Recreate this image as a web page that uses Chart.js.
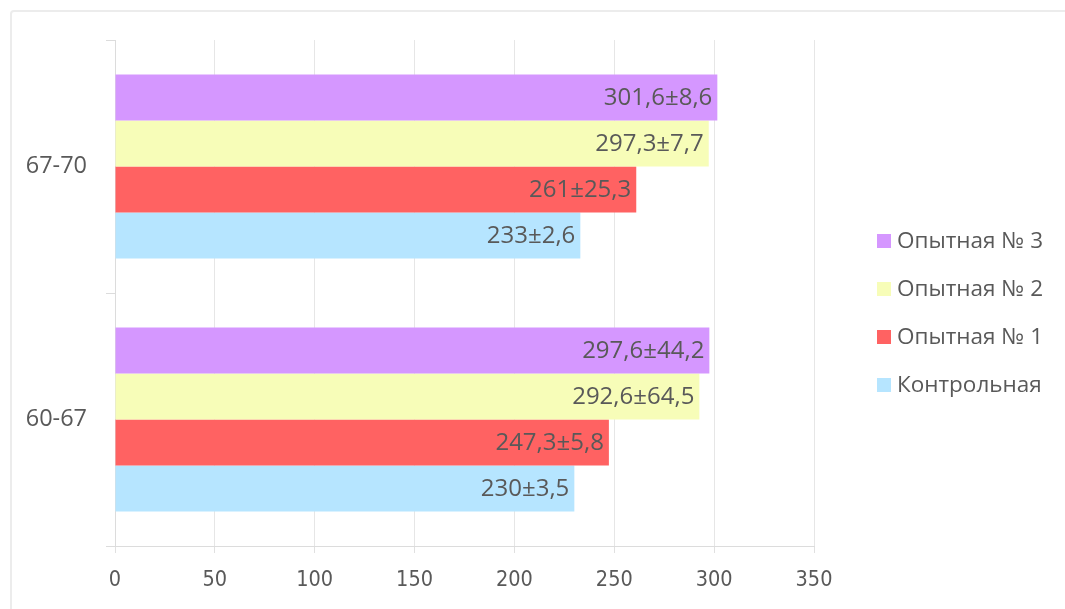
<!DOCTYPE html>
<html>
<head>
<meta charset="utf-8">
<script src="https://cdn.jsdelivr.net/npm/chart.js@4"></script>
<style>
  html, body { margin: 0; padding: 0; background: #fff; overflow: hidden; }
  #frame { position: absolute; left: 10px; top: 10px; width: 1100px; height: 700px;
           border: 2px solid #ececec; border-radius: 4px; }
  #wrap { position: absolute; left: 0; top: 0; width: 1065px; height: 609px; }
</style>
</head>
<body>
<div id="frame"></div>
<div id="wrap"><canvas id="barChart" width="1065" height="609"></canvas></div>
<script>
  // age groups, top to bottom
  var groups = ['67-70', '60-67'];
  var seriesNames = ['Опытная № 3', 'Опытная № 2', 'Опытная № 1', 'Контрольная'];
  var seriesColors = ['#d597ff', '#f7fdb8', '#ff6262', '#b6e5ff'];
  // means per group [67-70, 60-67]
  var exp3 = [301.6, 297.6];
  var exp2 = [297.3, 292.6];
  var exp1 = [261, 247.3];
  var control = [233, 230];
  // standard errors
  var exp3Err = [8.6, 44.2];
  var exp2Err = [7.7, 64.5];
  var exp1Err = [25.3, 5.8];
  var controlErr = [2.6, 3.5];
  var xTicks = [0, 50, 100, 150, 200, 250, 300, 350];

  var values = [exp3, exp2, exp1, control];
  var errors = [exp3Err, exp2Err, exp1Err, controlErr];

  function fmt(v) { return String(v).replace('.', ','); }

  // value labels at the inner end of each bar
  var barLabels = {
    id: 'barLabels',
    afterDatasetsDraw: function (chart) {
      var ctx = chart.ctx;
      ctx.save();
      ctx.font = '24px "Open Sans", sans-serif';
      ctx.fillStyle = '#595959';
      ctx.textAlign = 'right';
      ctx.textBaseline = 'middle';
      chart.data.datasets.forEach(function (ds, i) {
        chart.getDatasetMeta(i).data.forEach(function (bar, j) {
          ctx.fillText(fmt(ds.data[j]) + '±' + fmt(errors[i][j]), bar.x - 5, bar.y + 1);
        });
      });
      ctx.restore();
    }
  };

  // legend to the right, like the original
  var sideLegend = {
    id: 'sideLegend',
    afterDraw: function (chart) {
      var ctx = chart.ctx;
      ctx.save();
      ctx.font = '22.5px "Open Sans", sans-serif';
      ctx.textBaseline = 'middle';
      chart.data.datasets.forEach(function (ds, i) {
        var y = 241 + i * 48;
        ctx.fillStyle = ds.backgroundColor;
        ctx.fillRect(877, y - 7, 14, 14);
        ctx.fillStyle = '#595959';
        ctx.fillText(ds.label, 897, y + 1);
      });
      ctx.restore();
    }
  };

  var ctx1 = document.getElementById('barChart').getContext('2d');
  var barChart = new Chart(ctx1, {
    type: 'bar',
    data: {
      labels: groups,
      datasets: seriesNames.map(function (name, i) {
        return { label: name, data: values[i], backgroundColor: seriesColors[i],
                 categoryPercentage: 0.727, barPercentage: 1.0 };
      })
    },
    options: {
      indexAxis: 'y',
      responsive: false,
      animation: false,
      layout: { padding: { top: 40, right: 251, left: 0, bottom: 0 } },
      plugins: { legend: { display: false }, tooltip: { enabled: false } },
      scales: {
        x: {
          min: 0, max: 350,
          afterBuildTicks: function (s) { s.ticks = xTicks.map(function (v) { return { value: v }; }); },
          afterFit: function (s) { s.height = 63; },
          grid: { color: '#e6e6e6', lineWidth: 1, tickLength: 7, tickColor: '#e0e0e0' },
          border: { color: '#dcdcdc' },
          ticks: { color: '#595959', padding: 15,
                   font: { family: '"Liberation Sans Narrow", "DejaVu Sans Condensed", Roboto, sans-serif', size: 21.5 } }
        },
        y: {
          afterFit: function (s) { s.width = 115; },
          grid: { offset: true, drawOnChartArea: false, tickLength: 9, color: '#dcdcdc' },
          border: { color: '#dcdcdc' },
          ticks: { color: '#595959', padding: 19, font: { family: '"Open Sans", sans-serif', size: 23.5 } }
        }
      }
    },
    plugins: [barLabels, sideLegend]
  });
</script>
</body>
</html>
